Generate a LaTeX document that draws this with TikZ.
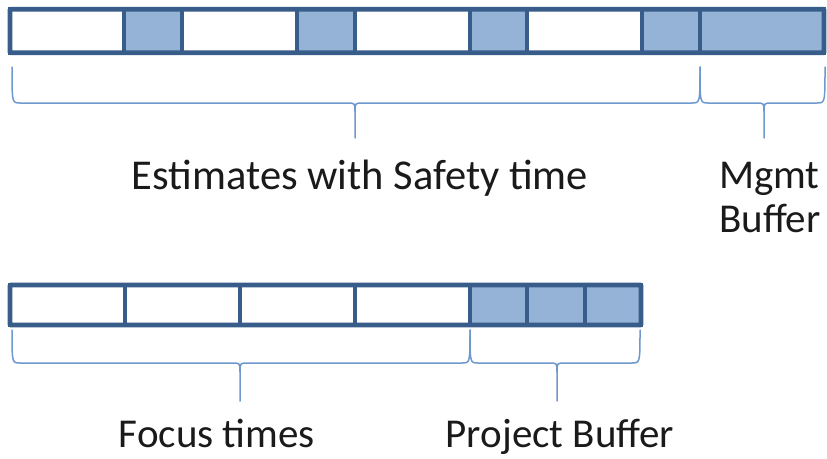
\documentclass[tikz,border=0pt]{standalone}
\usepackage{fontspec}
\setmainfont{Carlito}
\usetikzlibrary{fit}
\definecolor{bordercol}{HTML}{385D8A}
\definecolor{fillcol}{HTML}{95B3D7}
\definecolor{bracecol}{HTML}{6E98CE}
\definecolor{textcol}{HTML}{1A1A1A}
\newcommand\mybrace[6]{% x1, x2, xm, ytop, ymid, ybot
  \draw[bracestyle] (#1,#4) .. controls (#1,#5) .. (#1+8,#5) -- (#3-8,#5)
    .. controls (#3,#5) .. (#3,#5+9) -- (#3,#6);
  \draw[bracestyle] (#3,#5+9) .. controls (#3,#5) .. (#3+8,#5) -- (#2-8,#5)
    .. controls (#2,#5) .. (#2,#4);
}
\begin{document}
\begin{tikzpicture}[x=1pt,y=-1pt,
  cellbase/.style={draw=bordercol, line width=3.6pt, inner sep=0pt, outer sep=0pt},
  wcell/.style={cellbase, fill=white},
  bcell/.style={cellbase, fill=fillcol},
  outerbox/.style={draw=bordercol, line width=4.6pt, inner sep=0pt, outer sep=0pt, rounded corners=1pt},
  bracestyle/.style={draw=bracecol, line width=1.5pt, line cap=round, line join=round},
  lbl/.style={text=textcol, inner sep=0pt, font=\fontsize{41}{49}\selectfont}]
\useasboundingbox (0,0) rectangle (827,458);
% top bar
\foreach \a/\b/\s/\n in {10/124/wcell/t1, 124/182/bcell/t2, 182/297/wcell/t3,
    297/355/bcell/t4, 355/470/wcell/t5, 470/527/bcell/t6, 527/642/wcell/t7,
    642/700/bcell/t8, 700/824/bcell/t9}
  \node[\s, minimum width={(\b-\a)*1pt}, minimum height=43.5pt] (\n) at ({(\a+\b)/2},31) {};
\node[outerbox, fit=(t1)(t9)] (topbar) {};
% bottom bar
\foreach \a/\b/\s/\n in {10/125/wcell/b1, 125/240/wcell/b2, 240/355/wcell/b3,
    355/470/wcell/b4, 470/527/bcell/b5, 527/585/bcell/b6, 585/641/bcell/b7}
  \node[\s, minimum width={(\b-\a)*1pt}, minimum height=40pt] (\n) at ({(\a+\b)/2},305) {};
\node[outerbox, fit=(b1)(b7)] (botbar) {};
% braces
\mybrace{12}{700}{355}{67}{103}{138}
\mybrace{700}{825}{764}{67}{103}{138}
\mybrace{12}{470}{240}{330}{363}{401}
\mybrace{470}{640}{557}{330}{363}{401}
% labels
\node[lbl, anchor=base, font=\fontsize{42.5}{50}\selectfont] (est) at (360,189) {Estimates with Safety time};
\node[lbl, anchor=base west] (mgmt) at (719,188) {Mgmt};
\node[lbl, anchor=base west] (mbuf) at (719,232) {Buffer};
\node[lbl, anchor=base] (focus) at (217,447) {Focus times};
\node[lbl, anchor=base] (proj) at (560,447) {Project Buffer};
\end{tikzpicture}
\end{document}
